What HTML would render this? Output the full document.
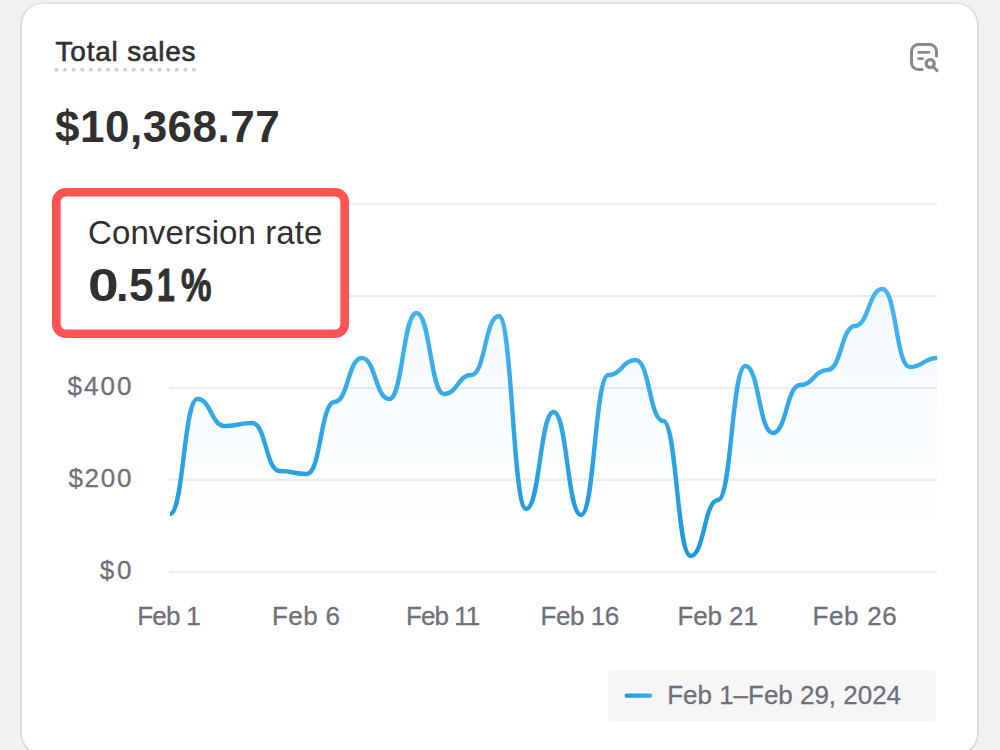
<!DOCTYPE html>
<html>
<head>
<meta charset="utf-8">
<title>Total sales</title>
<style>
  html, body { margin:0; padding:0; }
  body { width:1000px; height:750px; overflow:hidden; background:#f1f1f1; position:relative;
         font-family:"Liberation Sans", sans-serif; }
  .card { position:absolute; left:20px; top:2px; width:955px; height:750px; background:#fff;
          border:2px solid #dfdfdf; border-top-color:#e4e4e4; border-bottom-color:#cfcfcf; border-radius:23px; }
  .abs { position:absolute; white-space:nowrap; line-height:1; }
  .g { font-size:47px; font-weight:700; color:#303030; transform-origin:0 0; }
  .legend { position:absolute; left:607.5px; top:670px; width:328.5px; height:51px; background:#f6f6f7; border-radius:3px; }
</style>
</head>
<body>
<div class="card"></div>

<div class="abs" style="left:55.6px;top:38.0px;font-size:28px;font-weight:400;letter-spacing:0.77px;color:#303030;-webkit-text-stroke:0.6px #303030;">Total sales</div>
<div class="abs" style="left:55.0px;top:105.0px;font-size:44px;font-weight:700;letter-spacing:0.5px;color:#303030;">$10,368.77</div>

<svg class="abs" style="left:0;top:0" width="1000" height="750" viewBox="0 0 1000 750">
  <defs>
    <linearGradient id="ag" gradientUnits="userSpaceOnUse" x1="0" y1="285" x2="0" y2="545">
      <stop offset="0" stop-color="#2ea6e4" stop-opacity="0.065"/>
      <stop offset="1" stop-color="#2ea6e4" stop-opacity="0"/>
    </linearGradient>
    <linearGradient id="lg" gradientUnits="userSpaceOnUse" x1="0" y1="285" x2="0" y2="560">
      <stop offset="0" stop-color="#46b6f0"/>
      <stop offset="1" stop-color="#1c98da"/>
    </linearGradient>
    <linearGradient id="ll" gradientUnits="userSpaceOnUse" x1="624" y1="0" x2="653" y2="0">
      <stop offset="0" stop-color="#1c98da"/>
      <stop offset="1" stop-color="#3bb3f0"/>
    </linearGradient>
  </defs>
  <!-- dotted underline -->
  <g fill="#cfcfcf"><rect x="54.6" y="68" width="3.6" height="3.6" rx="0.9"/><rect x="63.2" y="68" width="3.6" height="3.6" rx="0.9"/><rect x="71.8" y="68" width="3.6" height="3.6" rx="0.9"/><rect x="80.4" y="68" width="3.6" height="3.6" rx="0.9"/><rect x="89.0" y="68" width="3.6" height="3.6" rx="0.9"/><rect x="97.6" y="68" width="3.6" height="3.6" rx="0.9"/><rect x="106.2" y="68" width="3.6" height="3.6" rx="0.9"/><rect x="114.8" y="68" width="3.6" height="3.6" rx="0.9"/><rect x="123.4" y="68" width="3.6" height="3.6" rx="0.9"/><rect x="132.0" y="68" width="3.6" height="3.6" rx="0.9"/><rect x="140.6" y="68" width="3.6" height="3.6" rx="0.9"/><rect x="149.2" y="68" width="3.6" height="3.6" rx="0.9"/><rect x="157.8" y="68" width="3.6" height="3.6" rx="0.9"/><rect x="166.4" y="68" width="3.6" height="3.6" rx="0.9"/><rect x="175.0" y="68" width="3.6" height="3.6" rx="0.9"/><rect x="183.6" y="68" width="3.6" height="3.6" rx="0.9"/><rect x="192.2" y="68" width="3.6" height="3.6" rx="0.9"/></g>
  <!-- header icon -->
  <g fill="none" stroke="#8a8a8a" stroke-width="3" stroke-linecap="round" stroke-linejoin="round" transform="translate(906,39)">
    <path d="M16.2,30.5 H12.5 A7,7 0 0 1 5.5,23.5 V12.5 A7,7 0 0 1 12.5,5.5 H23.5 A7,7 0 0 1 30.5,12.5 V17"/>
    <path d="M12.6,13.4 H22.8" stroke-width="2.7"/>
    <path d="M12.6,19.7 H16.6" stroke-width="2.7"/>
    <circle cx="24.2" cy="24.6" r="4.0" stroke-width="3.3"/>
    <path d="M27.6,28 L31,31.6"/>
  </g>
  <!-- gridlines -->
  <g fill="#ededee">
    <rect x="169" y="203" width="768" height="2.2"/>
    <rect x="169" y="295" width="768" height="2.2"/>
    <rect x="169" y="387" width="768" height="2.2"/>
    <rect x="169" y="478.6" width="768" height="2.2"/>
    <rect x="169" y="571" width="768" height="2.2"/>
  </g>
  <!-- chart -->
  <path d="M170.0,514.0 C183.7,514.0 183.7,399.0 197.4,399.0 C211.1,399.0 211.1,426.0 224.8,426.0 C238.5,426.0 238.5,423.0 252.2,423.0 C265.9,423.0 265.9,471.0 279.6,471.0 C293.3,471.0 293.3,474.0 307.0,474.0 C320.7,474.0 320.7,402.0 334.4,402.0 C348.1,402.0 348.1,358.0 361.8,358.0 C375.5,358.0 375.5,399.0 389.2,399.0 C402.9,399.0 402.9,313.0 416.6,313.0 C430.3,313.0 430.3,394.0 444.0,394.0 C457.7,394.0 457.7,375.0 471.4,375.0 C485.1,375.0 485.1,316.0 498.8,316.0 C512.5,316.0 512.5,509.0 526.2,509.0 C539.9,509.0 539.9,412.0 553.6,412.0 C567.3,412.0 567.3,515.0 581.0,515.0 C594.7,515.0 594.7,375.0 608.4,375.0 C622.1,375.0 622.1,360.0 635.8,360.0 C649.5,360.0 649.5,421.0 663.2,421.0 C676.9,421.0 676.9,556.0 690.6,556.0 C704.3,556.0 704.3,500.0 718.0,500.0 C731.7,500.0 731.7,366.0 745.4,366.0 C759.1,366.0 759.1,433.0 772.8,433.0 C786.5,433.0 786.5,385.0 800.2,385.0 C813.9,385.0 813.9,370.0 827.6,370.0 C841.3,370.0 841.3,326.0 855.0,326.0 C868.7,326.0 868.7,289.0 882.4,289.0 C896.1,289.0 896.1,367.0 909.8,367.0 C923.5,367.0 923.5,358.0 937.2,358.0 L937.2,572 L170.0,572 Z" fill="url(#ag)" stroke="none"/>
  <path d="M170.0,514.0 C183.7,514.0 183.7,399.0 197.4,399.0 C211.1,399.0 211.1,426.0 224.8,426.0 C238.5,426.0 238.5,423.0 252.2,423.0 C265.9,423.0 265.9,471.0 279.6,471.0 C293.3,471.0 293.3,474.0 307.0,474.0 C320.7,474.0 320.7,402.0 334.4,402.0 C348.1,402.0 348.1,358.0 361.8,358.0 C375.5,358.0 375.5,399.0 389.2,399.0 C402.9,399.0 402.9,313.0 416.6,313.0 C430.3,313.0 430.3,394.0 444.0,394.0 C457.7,394.0 457.7,375.0 471.4,375.0 C485.1,375.0 485.1,316.0 498.8,316.0 C512.5,316.0 512.5,509.0 526.2,509.0 C539.9,509.0 539.9,412.0 553.6,412.0 C567.3,412.0 567.3,515.0 581.0,515.0 C594.7,515.0 594.7,375.0 608.4,375.0 C622.1,375.0 622.1,360.0 635.8,360.0 C649.5,360.0 649.5,421.0 663.2,421.0 C676.9,421.0 676.9,556.0 690.6,556.0 C704.3,556.0 704.3,500.0 718.0,500.0 C731.7,500.0 731.7,366.0 745.4,366.0 C759.1,366.0 759.1,433.0 772.8,433.0 C786.5,433.0 786.5,385.0 800.2,385.0 C813.9,385.0 813.9,370.0 827.6,370.0 C841.3,370.0 841.3,326.0 855.0,326.0 C868.7,326.0 868.7,289.0 882.4,289.0 C896.1,289.0 896.1,367.0 909.8,367.0 C923.5,367.0 923.5,358.0 937.2,358.0" fill="none" stroke="url(#lg)" stroke-width="4.4" stroke-linecap="butt" stroke-linejoin="round"/>
  <!-- highlight box -->
  <rect x="56.3" y="192.2" width="288.4" height="141.6" rx="9.7" fill="#ffffff" stroke="#fc5353" stroke-width="8.6"/>
</svg>

<div class="abs" style="left:67.6px;top:373.0px;font-size:26px;font-weight:400;letter-spacing:2.0px;color:#70707b;-webkit-text-stroke:0.3px #70707b;">$400</div>
<div class="abs" style="left:68.4px;top:465.0px;font-size:26px;font-weight:400;letter-spacing:1.733px;color:#70707b;-webkit-text-stroke:0.3px #70707b;">$200</div>
<div class="abs" style="left:99.8px;top:557.0px;font-size:26px;font-weight:400;letter-spacing:2.8px;color:#70707b;-webkit-text-stroke:0.3px #70707b;">$0</div>

<div class="abs" style="left:88.0px;top:216.0px;font-size:33px;font-weight:400;letter-spacing:0.107px;color:#303030;">Conversion rate</div>
<span class="abs g" style="left:87.85px;top:261px;transform:scaleX(1.1727);">0</span><span class="abs g" style="left:116.03px;top:261px;transform:scaleX(0.9571);">.</span><span class="abs g" style="left:129.11px;top:261px;transform:scaleX(0.9435);">5</span><span class="abs g" style="left:156.65px;top:261px;transform:scaleX(0.6818);-webkit-text-stroke:0.9px #303030;">1</span><span class="abs g" style="left:181.27px;top:261px;transform:scaleX(0.73);-webkit-text-stroke:0.9px #303030;">%</span>

<div class="abs" style="left:137.2px;top:603.0px;font-size:26px;font-weight:400;letter-spacing:-0.725px;color:#70707b;-webkit-text-stroke:0.3px #70707b;">Feb 1</div>
<div class="abs" style="left:272.1px;top:603.0px;font-size:26px;font-weight:400;letter-spacing:0.375px;color:#70707b;-webkit-text-stroke:0.3px #70707b;">Feb 6</div>
<div class="abs" style="left:406.0px;top:603.0px;font-size:26px;font-weight:400;letter-spacing:-0.96px;color:#70707b;-webkit-text-stroke:0.3px #70707b;">Feb 11</div>
<div class="abs" style="left:540.5px;top:603.0px;font-size:26px;font-weight:400;letter-spacing:-0.46px;color:#70707b;-webkit-text-stroke:0.3px #70707b;">Feb 16</div>
<div class="abs" style="left:677.4px;top:603.0px;font-size:26px;font-weight:400;letter-spacing:-0.08px;color:#70707b;-webkit-text-stroke:0.3px #70707b;">Feb 21</div>
<div class="abs" style="left:812.4px;top:603.0px;font-size:26px;font-weight:400;letter-spacing:0.68px;color:#70707b;-webkit-text-stroke:0.3px #70707b;">Feb 26</div>

<div class="legend"></div>
<svg class="abs" style="left:0;top:660px" width="1000" height="90" viewBox="0 660 1000 90">
  <rect x="624.6" y="693.6" width="27.7" height="4.2" rx="2.1" fill="url(#ll)"/>
</svg>
<div class="abs" style="left:667.2px;top:682.0px;font-size:26px;font-weight:400;letter-spacing:-0.018px;color:#70707b;-webkit-text-stroke:0.3px #70707b;">Feb 1–Feb 29, 2024</div>
</body>
</html>
